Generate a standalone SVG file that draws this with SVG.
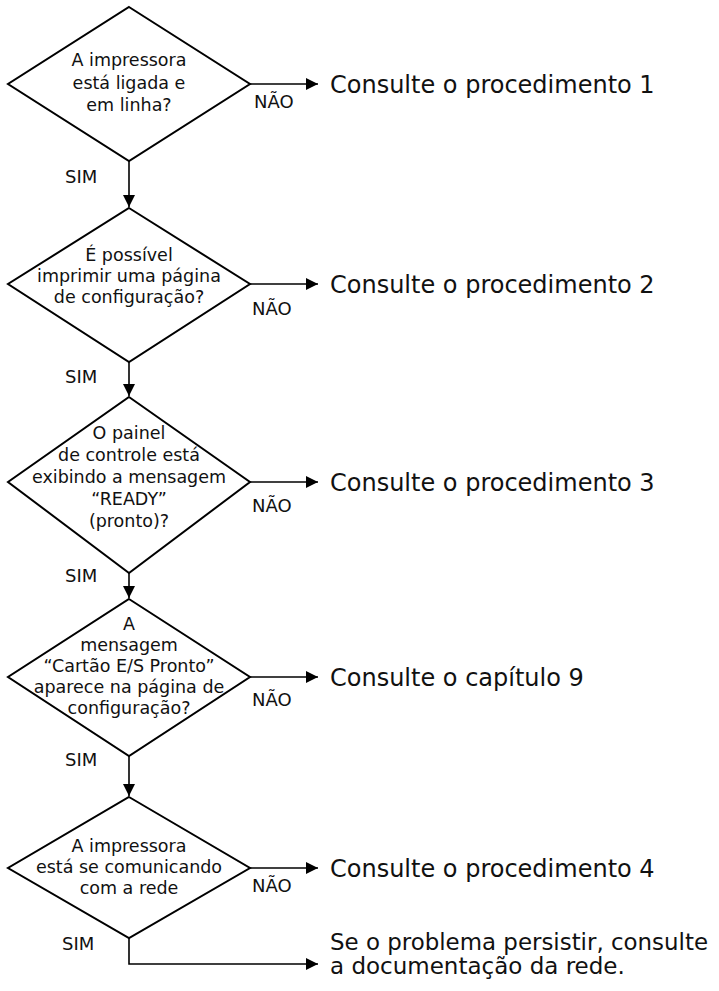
<svg xmlns="http://www.w3.org/2000/svg" width="719" height="991" viewBox="0 0 719 991">
<style>
.d{fill:#fff;stroke:#000;stroke-width:2;stroke-linejoin:miter}
.t{font-family:"DejaVu Sans",sans-serif;font-size:17.5px;fill:#111;text-anchor:middle}
.l{font-family:"DejaVu Sans",sans-serif;font-size:18px;fill:#111}
.r{font-family:"DejaVu Sans",sans-serif;font-size:24px;fill:#111}
.r2{font-family:"DejaVu Sans",sans-serif;font-size:23px;fill:#111}
.c{fill:none;stroke:#000;stroke-width:1.6}
</style>
<defs>
<marker id="ah" viewBox="0 0 12 12" refX="12" refY="6" markerWidth="12" markerHeight="12" markerUnits="userSpaceOnUse" orient="auto">
<path d="M0,0 L12,6 L0,12 Z" fill="#000"/>
</marker>
</defs>
<g id="connectors">
<path class="c" d="M129,161 V207" marker-end="url(#ah)"/>
<path class="c" d="M129,362 V396" marker-end="url(#ah)"/>
<path class="c" d="M129,573 V598" marker-end="url(#ah)"/>
<path class="c" d="M129,756 V796" marker-end="url(#ah)"/>
<path class="c" d="M129,938 V964 H318" marker-end="url(#ah)"/>
<path class="c" d="M250,84 H318" marker-end="url(#ah)"/>
<path class="c" d="M250,284 H318" marker-end="url(#ah)"/>
<path class="c" d="M250,482 H318" marker-end="url(#ah)"/>
<path class="c" d="M250,677 H318" marker-end="url(#ah)"/>
<path class="c" d="M250,868 H318" marker-end="url(#ah)"/>
<text class="l" x="254" y="108">NÃO</text>
<text class="l" x="252" y="315">NÃO</text>
<text class="l" x="252" y="512">NÃO</text>
<text class="l" x="252" y="706">NÃO</text>
<text class="l" x="252" y="892">NÃO</text>
<text class="l" x="65" y="183">SIM</text>
<text class="l" x="65" y="383">SIM</text>
<text class="l" x="65" y="582">SIM</text>
<text class="l" x="65" y="766">SIM</text>
<text class="l" x="62" y="950">SIM</text>
</g>
<g id="d1">
<polygon class="d" points="129,7 250,84 129,161 8,84"/>
<text class="t" x="129" y="66">A impressora</text>
<text class="t" x="129" y="89">está ligada e</text>
<text class="t" x="129" y="111">em linha?</text>
</g>
<g id="d2">
<polygon class="d" points="129,208 250,284 129,362 8,284"/>
<text class="t" x="129" y="261">É possível</text>
<text class="t" x="129" y="282">imprimir uma página</text>
<text class="t" x="129" y="303">de configuração?</text>
</g>
<g id="d3">
<polygon class="d" points="129,397 250,482 129,573 8,482"/>
<text class="t" x="129" y="439">O painel</text>
<text class="t" x="129" y="461">de controle está</text>
<text class="t" x="129" y="483">exibindo a mensagem</text>
<text class="t" x="129" y="505">“READY”</text>
<text class="t" x="129" y="527">(pronto)?</text>
</g>
<g id="d4">
<polygon class="d" points="129,599 250,677 129,756 8,677"/>
<text class="t" x="129" y="630">A</text>
<text class="t" x="129" y="651">mensagem</text>
<text class="t" x="129" y="672">“Cartão E/S Pronto”</text>
<text class="t" x="129" y="693">aparece na página de</text>
<text class="t" x="129" y="714">configuração?</text>
</g>
<g id="d5">
<polygon class="d" points="129,797 250,868 129,938 8,868"/>
<text class="t" x="129" y="852">A impressora</text>
<text class="t" x="129" y="873">está se comunicando</text>
<text class="t" x="129" y="894">com a rede</text>
</g>
<g id="r1"><text class="r" x="330" y="93">Consulte o procedimento 1</text></g>
<g id="r2"><text class="r" x="330" y="293">Consulte o procedimento 2</text></g>
<g id="r3"><text class="r" x="330" y="491">Consulte o procedimento 3</text></g>
<g id="r4"><text class="r" x="330" y="686">Consulte o capítulo 9</text></g>
<g id="r5"><text class="r" x="330" y="877">Consulte o procedimento 4</text></g>
<g id="r6">
<text class="r2" x="330" y="950" textLength="378" lengthAdjust="spacingAndGlyphs">Se o problema persistir, consulte</text>
<text class="r2" x="330" y="974">a documentação da rede.</text>
</g>
</svg>
